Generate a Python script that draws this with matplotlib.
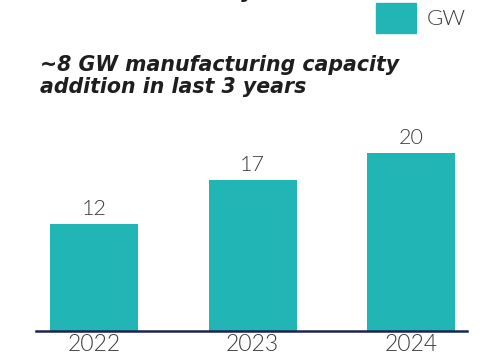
# Bar chart of GW manufacturing capacity by year
import matplotlib.pyplot as plt

years = ["2022", "2023", "2024"]
capacity_gw = [12, 17, 20]
legend_label = "GW"
title = "~8 GW manufacturing capacity\naddition in last 3 years"

teal = "#21b5b5"
navy = "#1b2450"
grey = "#3a3a3a"

W, H = 481, 361
fig = plt.figure(figsize=(W / 100, H / 100), dpi=100)
ax = fig.add_axes([36 / W, 30 / H, 431 / W, 231 / H])

x = list(range(len(years)))
ax.bar(x, capacity_gw, width=0.555, color=teal, edgecolor="none")
for xi, v in zip(x, capacity_gw):
    ax.text(xi, v + 0.6, str(v), ha="center", va="bottom",
            fontsize=15.5, color=grey, family="Lato", fontweight=300)

ax.set_xlim(-0.366, 2.353)
ax.set_ylim(0, 26)
ax.set_xticks(x)
ax.set_xticklabels(years, fontsize=16.5, color=grey, family="Lato",
                   fontweight=300)
ax.tick_params(axis="x", length=0, pad=2)
ax.set_yticks([])
for s in ["top", "right", "left"]:
    ax.spines[s].set_visible(False)
ax.spines["bottom"].set_color(navy)
ax.spines["bottom"].set_linewidth(1.8)

# title
fig.text(40 / W, 1 - 55 / H, title, ha="left", va="top", fontsize=14.8,
         fontweight="heavy", fontstyle="italic", color="#1e1e1e",
         linespacing=1.12)

# legend box
fig.patches.append(plt.Rectangle((376 / W, 1 - 33 / H), 40 / W, 30 / H,
                                 transform=fig.transFigure, color=teal,
                                 figure=fig))
fig.text(427 / W, 1 - 19 / H, legend_label, ha="left", va="center",
         fontsize=16, color=grey, family="Lato", fontweight=300)

# descender of heading cut off above
fig.text(247 / W, 1 + 4 / H, "y", ha="center", va="baseline", fontsize=22,
         color="#1e1e1e", fontweight=300)

fig.savefig("out.png", dpi=100)
